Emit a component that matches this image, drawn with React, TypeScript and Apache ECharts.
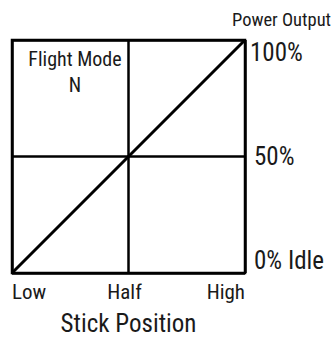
import React, { useEffect, useRef } from 'react';
import * as echarts from 'echarts';

const stickValues = [0, 1, 2];
const stickLabels = ['Low', 'Half', 'High'];
const outputValues = [0, 50, 100];
const outputLabels = ['0% Idle', '50%', '100%'];
const curveX = [0, 2];
const curveY = [0, 100];
const modeLines = ['Flight Mode', 'N'];
const xTitle = 'Stick Position';
const yTitle = 'Power Output';

const FONT = '"Roboto Condensed", "DejaVu Sans Condensed", sans-serif';
const INK = '#1a1a1a';

export default function App() {
  const ref = useRef<HTMLDivElement>(null);
  useEffect(() => {
    if (!ref.current) return;
    const chart = echarts.init(ref.current, undefined, { renderer: 'svg' });
    chart.setOption({
      animation: false,
      backgroundColor: '#fff',
      textStyle: { fontFamily: FONT, color: INK },
      title: [
        {
          text: modeLines.join('\n'),
          left: 75,
          top: 46,
          padding: 0,
          textAlign: 'center',
          textStyle: { fontFamily: FONT, fontSize: 20, fontWeight: 'normal', color: INK, lineHeight: 26 },
        },
        {
          text: yTitle,
          left: 232,
          top: 9,
          padding: 0,
          textStyle: { fontFamily: FONT, fontSize: 18.5, fontWeight: 'normal', color: INK, lineHeight: 22 },
        },
      ],
      grid: {
        left: 12,
        right: 88,
        top: 40,
        bottom: 68,
        outerBoundsMode: 'none',
        containLabel: false,
        show: true,
        borderColor: '#000',
        borderWidth: 2.5,
        backgroundColor: '#fff',
      },
      xAxis: {
        type: 'value',
        min: 0,
        max: 2,
        interval: 1,
        name: xTitle,
        nameLocation: 'middle',
        nameGap: 38,
        nameTextStyle: { fontFamily: FONT, fontSize: 25, color: INK },
        axisLine: { show: false },
        axisTick: { show: false },
        splitLine: { show: true, lineStyle: { color: '#000', width: 2.5 } },
        axisLabel: {
          margin: 8,
          fontFamily: FONT,
          fontSize: 21,
          color: INK,
          alignMinLabel: 'left',
          alignMaxLabel: 'right',
          rich: {
            mid: { fontFamily: FONT, fontSize: 21, color: INK, padding: [0, 8, 0, 0] },
          },
          formatter: (v: number) => {
            const i = stickValues.indexOf(v);
            if (i < 0) return '';
            return i === 1 ? `{mid|${stickLabels[i]}}` : stickLabels[i];
          },
        },
      },
      yAxis: {
        type: 'value',
        position: 'right',
        min: 0,
        max: 100,
        interval: 50,
        axisLine: { show: false },
        axisTick: { show: false },
        splitLine: { show: true, lineStyle: { color: '#000', width: 2.5 } },
        axisLabel: {
          margin: 5,
          fontFamily: FONT,
          fontSize: 25,
          color: INK,
          verticalAlignMaxLabel: 'top',
          verticalAlignMinLabel: 'bottom',
          rich: {
            shift: { fontFamily: FONT, fontSize: 25, color: INK, padding: [0, 0, 0, 4] },
          },
          formatter: (v: number) => {
            const i = outputValues.indexOf(v);
            if (i < 0) return '';
            return i < 2 ? `{shift|${outputLabels[i]}}` : outputLabels[i];
          },
        },
      },
      series: [
        {
          type: 'line',
          data: curveX.map((x, i) => [x, curveY[i]]),
          showSymbol: false,
          lineStyle: { color: '#000', width: 3 },
          silent: true,
        },
      ],
    });
    return () => chart.dispose();
  }, []);
  return <div ref={ref} style={{ position: 'fixed', left: 0, top: 0, width: 333, height: 341 }} />;
}
